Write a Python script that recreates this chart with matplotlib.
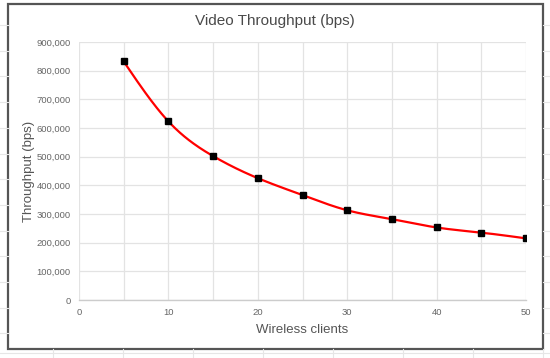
import numpy as np
import matplotlib
matplotlib.use("Agg")
import matplotlib.pyplot as plt
from matplotlib.patches import Rectangle
from matplotlib.lines import Line2D
from matplotlib.ticker import FuncFormatter, MultipleLocator

clients = [5, 10, 15, 20, 25, 30, 35, 40, 45, 50]
throughput = [832000, 623000, 502000, 425000, 366000, 313000, 282000, 253000, 235000, 215000]
title = "Video Throughput (bps)"
xlabel = "Wireless clients"
ylabel = "Throughput (bps)"

plt.rcParams["font.family"] = ["Liberation Sans", "DejaVu Sans"]

W, H = 550, 358
fig = plt.figure(figsize=(W / 100, H / 100), dpi=100)
fig.patch.set_facecolor("white")

# spreadsheet background lines outside the chart frame
bg = "#e6e6e6"
for yy in np.arange(25, 350, 25.7):
    fig.add_artist(Line2D([0, 8 / W], [1 - yy / H] * 2, color=bg, lw=0.8))
    fig.add_artist(Line2D([543 / W, 1], [1 - yy / H] * 2, color=bg, lw=0.8))
fig.add_artist(Line2D([0, 1], [1 - 352.5 / H] * 2, color=bg, lw=0.8))
for xx in np.arange(53, 550, 70):
    fig.add_artist(Line2D([xx / W] * 2, [0, 1 - 349 / H], color=bg, lw=0.8))

# chart frame
fig.add_artist(Rectangle((8 / W, 1 - 349 / H), (543 - 8) / W, (349 - 4) / H,
                         transform=fig.transFigure, fill=False,
                         edgecolor="#555555", lw=1.6))

ax = fig.add_axes([79 / W, 1 - 300 / H, (526 - 79) / W, (300 - 42) / H])
ax.set_xlim(0, 50)
ax.set_ylim(0, 900000)
ax.xaxis.set_major_locator(MultipleLocator(10))
ax.xaxis.set_minor_locator(MultipleLocator(5))
ax.yaxis.set_major_locator(MultipleLocator(100000))
ax.yaxis.set_major_formatter(FuncFormatter(lambda v, p: f"{int(v):,}"))
ax.grid(True, which="both", color="#e3e3e3", lw=0.9)
ax.set_axisbelow(True)
for s in ["top", "right", "left"]:
    ax.spines[s].set_visible(False)
ax.spines["bottom"].set_color("#cccccc")
ax.spines["bottom"].set_linewidth(1.0)
ax.tick_params(which="both", length=0, labelsize=6.8, labelcolor="#666666", pad=6)

# smooth curve: natural cubic spline rendered through the data points
x = np.array(clients, float)
y = np.array(throughput, float)
n = len(x)
h = np.diff(x)
A = np.zeros((n, n))
b = np.zeros(n)
A[0, 0] = A[-1, -1] = 1
for i in range(1, n - 1):
    A[i, i - 1] = h[i - 1]
    A[i, i] = 2 * (h[i - 1] + h[i])
    A[i, i + 1] = h[i]
    b[i] = 6 * ((y[i + 1] - y[i]) / h[i] - (y[i] - y[i - 1]) / h[i - 1])
M = np.linalg.solve(A, b)
sx, sy = [], []
for i in range(n - 1):
    tt = np.linspace(x[i], x[i + 1], 40)
    a = x[i + 1] - tt
    c = tt - x[i]
    val = (M[i] * a ** 3 + M[i + 1] * c ** 3) / (6 * h[i]) \
        + (y[i] / h[i] - M[i] * h[i] / 6) * a + (y[i + 1] / h[i] - M[i + 1] * h[i] / 6) * c
    sx.extend(tt)
    sy.extend(val)
ax.plot(sx, sy, color="#ff0000", lw=1.6, zorder=3, solid_capstyle="round")
ax.plot(x, y, linestyle="none", marker="s", markersize=4.2, color="black", zorder=4)

ax.set_xlabel(xlabel, fontsize=9.5, color="#555555", labelpad=5)
ax.set_ylabel(ylabel, fontsize=9.5, color="#555555", labelpad=1)
fig.text(275 / W, 1 - 21 / H, title, ha="center", va="center", fontsize=11, color="#4a4a4a")

fig.savefig("out.png", dpi=100, facecolor="white")
